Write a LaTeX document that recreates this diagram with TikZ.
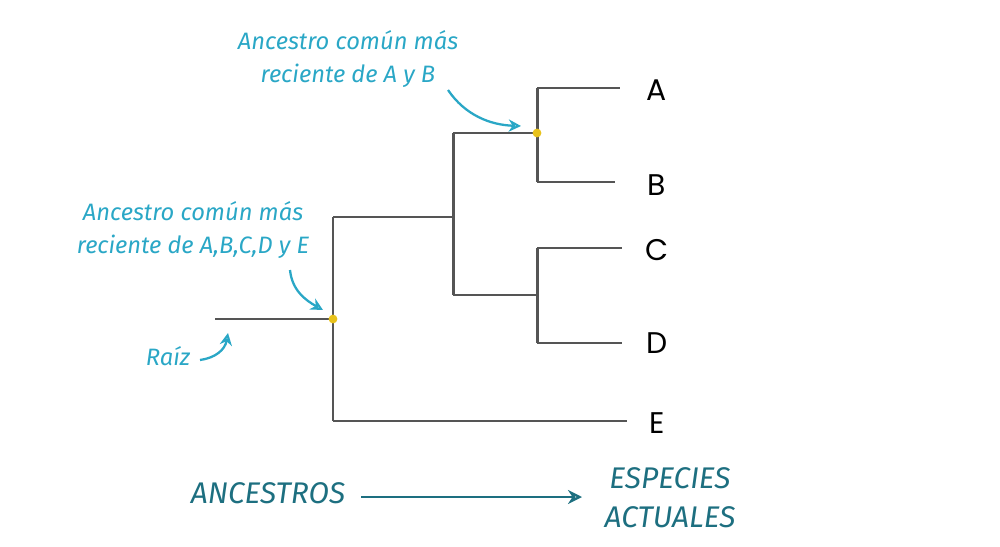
\documentclass[tikz,border=0pt]{standalone}
\usepackage{fontspec}
\setmainfont{Fira Sans}
\newfontfamily\leaf{Poppins}
\usetikzlibrary{arrows.meta}
\definecolor{br}{HTML}{555555}
\definecolor{ann}{HTML}{2AA7C6}
\definecolor{tl}{HTML}{1D6F80}
\definecolor{dot}{HTML}{E8C21B}
\begin{document}
\begin{tikzpicture}[x=0.02cm,y=-0.02cm,
  br/.style={draw=br,line width=1.7pt},
  leafl/.style={font=\leaf\fontsize{17}{20}\selectfont,anchor=center},
  annt/.style={text=ann,font=\itshape\fontsize{13.5}{19}\selectfont,align=center},
  annar/.style={draw=ann,line width=1.3pt,-{Stealth[length=7pt,width=7pt,open]}},
  dt/.style={circle,fill=dot,inner sep=0pt,minimum size=5pt},
  big/.style={text=tl,font=\itshape\fontsize{17}{22}\selectfont,align=center}]
\useasboundingbox (0,0) rectangle (1000,547);
\coordinate (r0) at (215,319); \coordinate (r1) at (333,319);
\coordinate (n1t) at (333,217); \coordinate (n1b) at (333,421);
\coordinate (n2) at (453,217); \coordinate (n2t) at (453,133); \coordinate (n2b) at (453,295);
\coordinate (n3) at (537,133); \coordinate (n3t) at (537,88); \coordinate (n3b) at (537,182);
\coordinate (n4) at (537,295); \coordinate (n4t) at (537,248); \coordinate (n4b) at (537,343);
\coordinate (eA) at (620,88); \coordinate (eB) at (615,182); \coordinate (eC) at (622,248);
\coordinate (eD) at (622,343); \coordinate (eE) at (627,421);
\draw[br] (r0)--(r1);
\draw[br] (n1t)--(n1b);
\draw[br] (n1t)--(n2);
\draw[br] (n2t)--(n2b);
\draw[br] (n2t)--(n3);
\draw[br] (n3t)--(n3b);
\draw[br] (n3t)--(eA); \draw[br] (n3b)--(eB);
\draw[br] (n2b)--(n4);
\draw[br] (n4t)--(n4b);
\draw[br] (n4t)--(eC); \draw[br] (n4b)--(eD);
\draw[br] (n1b)--(eE);
\node[dt] (d1) at (n3) {}; \node[dt] (d2) at (r1) {};
\node[leafl] (A) at (657,90) {A};
\node[leafl] (B) at (657,185) {B};
\node[leafl] (C) at (657,250) {C};
\node[leafl] (D) at (657,343) {D};
\node[leafl] (E) at (657,423) {E};
\node[annt] (t1) at (348,59) {Ancestro común más\\reciente de A y B};
\node[annt] (t2) at (193,230) {Ancestro común más\\reciente de A,B,C,D y E};
\node[annt] (t3) at (168,356) {Raíz};
\coordinate (a1s) at (448,90); \coordinate (a2s) at (290,270); \coordinate (a3s) at (200,360);
\draw[annar] (a1s) .. controls (465,115) and (490,125) .. (521,126);
\draw[annar] (a2s) .. controls (292,290) and (305,300) .. (323,310);
\draw[annar] (a3s) .. controls (215,358) and (225,350) .. (228,333);
\node[big] (anc) at (268,493) {ANCESTROS};
\node[big] (esp) at (670,498) {ESPECIES\\ACTUALES};
\draw[draw=tl,line width=1.3pt,-{Stealth[length=8pt,width=8pt,open]}] (anc.east)++(10,4) coordinate (s) -- (582,497);
\end{tikzpicture}
\end{document}
